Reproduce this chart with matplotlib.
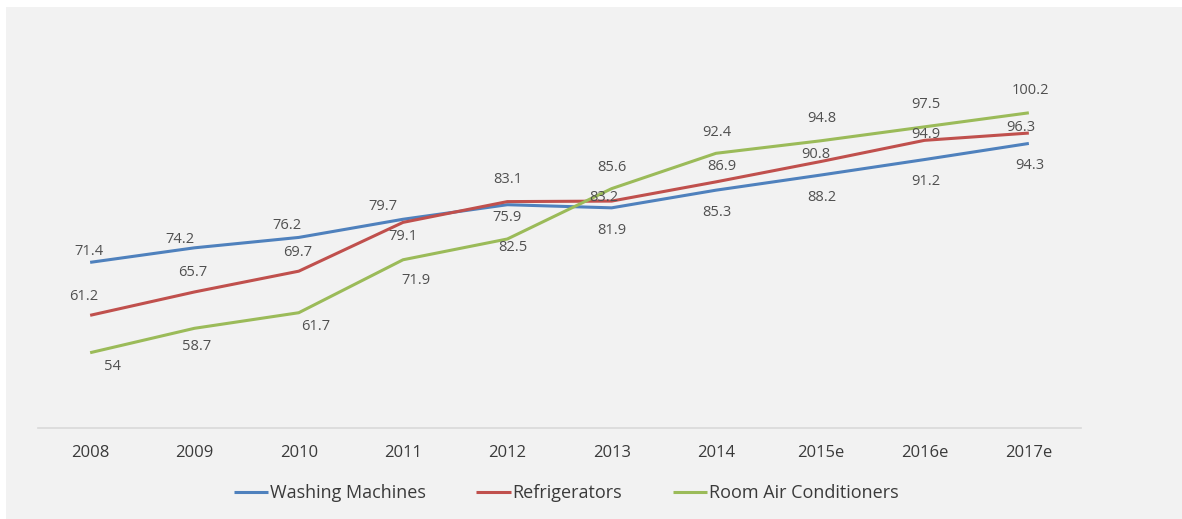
import matplotlib.pyplot as plt
from matplotlib.patches import Rectangle

# Data
years = ['2008', '2009', '2010', '2011', '2012', '2013', '2014', '2015e', '2016e', '2017e']
washing = [71.4, 74.2, 76.2, 79.7, 82.5, 81.9, 85.3, 88.2, 91.2, 94.3]
fridges = [61.2, 65.7, 69.7, 79.1, 83.1, 83.2, 86.9, 90.8, 94.9, 96.3]
aircon = [54, 58.7, 61.7, 71.9, 75.9, 85.6, 92.4, 94.8, 97.5, 100.2]

# label offsets in pixels (dx, dy) with dy down, to mimic the Excel placement
off_wm = [(-1, -11), (-15, -8), (-12, -12), (-20, -13), (6, 43), (0, 23), (1, 22), (2, 22), (1, 22), (1, 22)]
off_rf = [(-6, -19), (-2, -19), (-1, -19), (0, 14), (0, -22), (-8, -4), (6, -15), (-4, -7), (1, -6), (-8, -6)]
off_ac = [(22, 14), (2, 18), (17, 14), (13, 21), (0, -21), (0, -21), (1, -21), (2, -22), (1, -22), (2, -22)]

bg = '#f2f2f2'
fig = plt.figure(figsize=(11.82, 5.19), dpi=100, facecolor='white')
fig.add_artist(Rectangle((6 / 1182, 0), 1, 1 - 7 / 519, transform=fig.transFigure,
                         facecolor=bg, edgecolor='none', zorder=-10))

ax = fig.add_axes([38 / 1182, 1 - 428 / 519, (1081 - 38) / 1182, (428 - 10) / 519])
ax.set_facecolor('none')
ax.set_zorder(1)

x = range(len(years))
series = [(washing, '#4f81bd', 'Washing Machines', off_wm),
          (fridges, '#c0504d', 'Refrigerators', off_rf),
          (aircon, '#9bbb59', 'Room Air Conditioners', off_ac)]
for vals, col, name, offs in series:
    ax.plot(x, vals, color=col, lw=2.2, label=name, solid_capstyle='butt')
    for i, v in enumerate(vals):
        ax.annotate(f'{v:g}', (i, v), xytext=(offs[i][0], -offs[i][1]),
                    textcoords='offset pixels', ha='center', va='center',
                    fontsize=10.5, color='#505050', family='Open Sans')

ax.set_xlim(-0.5, len(years) - 0.5)
ax.set_ylim(39.5, 120)
ax.set_xticks(list(x))
ax.set_xticklabels(years, fontsize=12, color='#3a3a3a', family='Open Sans')
ax.tick_params(axis='x', length=0, pad=12)
ax.set_yticks([])
for s in ['top', 'right', 'left']:
    ax.spines[s].set_visible(False)
ax.spines['bottom'].set_color('#d9d9d9')
ax.spines['bottom'].set_linewidth(1.2)

fig.legend(loc='center', bbox_to_anchor=(566 / 1182, 1 - 493 / 519), ncol=3, frameon=False,
           prop={'family': 'Open Sans', 'size': 13}, handlelength=1.9, handletextpad=0.1,
           columnspacing=2.8, labelcolor='#3a3a3a')

fig.savefig('out.png', dpi=100, facecolor='white')
